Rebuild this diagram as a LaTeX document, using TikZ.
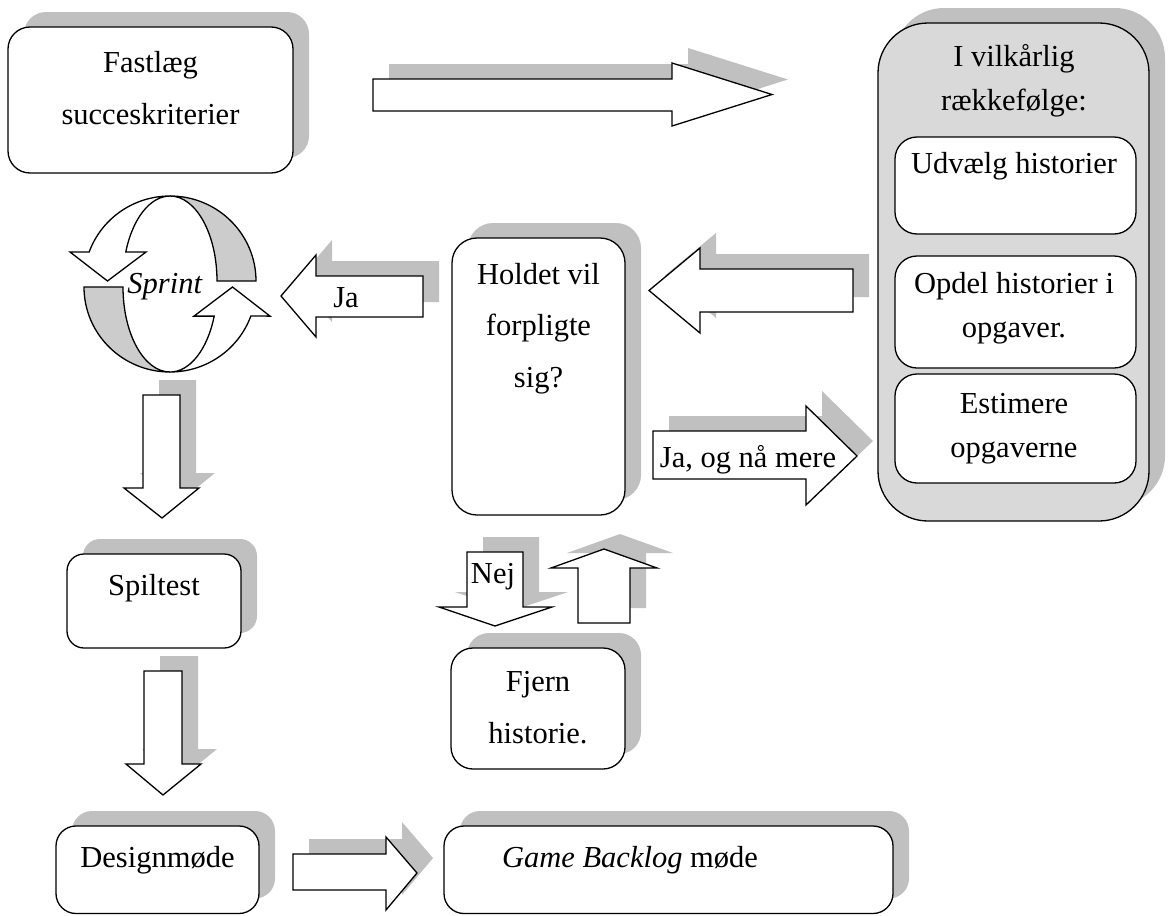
\documentclass[tikz,border=0pt]{standalone}
\usepackage{fontspec}
\setmainfont{Liberation Serif}
\usetikzlibrary{shadows}
\definecolor{shadowgray}{RGB}{192,192,192}
\definecolor{panelgray}{RGB}{217,217,217}
\definecolor{bandgray}{RGB}{204,204,204}
\begin{document}
\begin{tikzpicture}[x=1pt,y=-1pt,
  outline/.style={draw=black, line width=1.3pt},
  shade/.style={drop shadow={shadow xshift=16pt, shadow yshift=15pt, fill=shadowgray, opacity=1}},
  box/.style={outline, fill=white, shade, rounded corners=#1, inner sep=0pt},
  box/.default=22pt,
  subbox/.style={outline, fill=white, rounded corners=22pt, inner sep=0pt},
  blockarrow/.style={outline, fill=white, shade, line join=miter},
  band/.style={outline, fill=bandgray},
  txt/.style={font=\fontsize{30.5}{51.5}\selectfont, align=center, inner sep=0pt},
  paneltxt/.style={font=\fontsize{30.5}{44}\selectfont, align=center, inner sep=0pt},
]
\useasboundingbox (0,0) rectangle (1171,916);

% ---- boxes (text nodes are anchored at the baseline of their last line) ----
\node[box] (fast) at (150.5,100) [minimum width=285pt, minimum height=146pt] {};
\node[txt, anchor=base] (fast-t) at (150.5,124) {Fastlæg\\succeskriterier};

\node[outline, fill=panelgray, shade, rounded corners=50pt, inner sep=0pt,
      minimum width=271pt, minimum height=498pt] (panel) at (1013.5,272) {};
\node[paneltxt, anchor=base] (panel-t) at (1014,110) {I vilkårlig\\rækkefølge:};

\node[subbox, minimum width=241pt, minimum height=97pt] (pick) at (1015.5,185.5) {};
\node[paneltxt, anchor=base] (pick-t) at (1014,173) {Udvælg historier};
\node[subbox, minimum width=241pt, minimum height=112pt] (split) at (1015.5,312) {};
\node[paneltxt, anchor=base] (split-t) at (1014,337) {Opdel historier i\\opgaver.};
\node[subbox, minimum width=241pt, minimum height=109pt] (est) at (1015.5,428.5) {};
\node[paneltxt, anchor=base] (est-t) at (1014,457) {Estimere\\opgaverne};

\node[box=25pt, minimum width=173pt, minimum height=277pt] (commit) at (538.5,376.5) {};
\node[txt, anchor=base] (commit-t) at (538.5,387) {Holdet vil\\forpligte\\sig?};

\node[box, minimum width=174pt, minimum height=121pt] (remove) at (538,708.5) {};
\node[txt, anchor=base] (remove-t) at (538,743) {Fjern\\historie.};

\node[box=17pt, minimum width=174pt, minimum height=94pt] (test) at (154,601) {};
\node[txt, anchor=base] (test-t) at (154,595) {Spiltest};

\node[box=20pt, minimum width=203pt, minimum height=87.5pt] (design) at (157.5,869.75) {};
\node[txt, anchor=base] (design-t) at (157.5,867) {Designmøde};

\node[box=20pt, minimum width=449pt, minimum height=87.5pt] (backlog) at (668.5,869.75) {};
\node[txt, anchor=base] (backlog-t) at (630,867) {\textit{Game Backlog} møde};

% ---- block arrows ----
\draw[blockarrow] (373,79) -- (672,79) -- (672,63) -- (772,94.5) -- (672,126) -- (672,111) -- (373,111) -- cycle;
\draw[blockarrow] (423,276) -- (316,276) -- (316,255) -- (281,296) -- (316,337) -- (316,317) -- (423,317) -- cycle;
\node[txt, anchor=base] (yes-t) at (346,307) {Ja};
\draw[blockarrow] (853,269) -- (700,269) -- (700,248) -- (649,290.5) -- (700,333) -- (700,312) -- (853,312) -- cycle;
\draw[blockarrow] (653,431) -- (806,431) -- (806,406) -- (857,456) -- (806,505) -- (806,479) -- (653,479) -- cycle;
\node[txt, anchor=base] (more-t) at (748,467) {Ja, og nå mere};
\draw[blockarrow] (467,552) -- (467,607) -- (439,607) -- (495,626) -- (552,607) -- (523,607) -- (523,552) -- cycle;
\node[txt, anchor=base] (no-t) at (493,583) {Nej};
\draw[blockarrow] (578,623) -- (578,568) -- (551,568) -- (604,549) -- (657,568) -- (630,568) -- (630,623) -- cycle;
\draw[blockarrow] (143,395) -- (143,488) -- (124,488) -- (162,518) -- (199,488) -- (180,488) -- (180,395) -- cycle;
\draw[blockarrow] (144,671) -- (144,764) -- (126,764) -- (163,795) -- (201,764) -- (182,764) -- (182,671) -- cycle;
\draw[blockarrow] (293,854) -- (386,854) -- (386,837) -- (417,873) -- (386,910) -- (386,890) -- (293,890) -- cycle;

% ---- sprint cycle ----
\draw[band] (170,196) arc[start angle=270, end angle=360, x radius=86, y radius=85]
  -- (217,281) arc[start angle=0, end angle=-90, x radius=47, y radius=85] -- cycle;
\draw[outline, fill=white, line join=miter] (170,196) arc[start angle=270, end angle=200, x radius=86, y radius=85]
  -- (70,252) -- (107.5,281) -- (146,252) -- (125.8,252)
  arc[start angle=200, end angle=270, x radius=47, y radius=85] -- cycle;
\draw[band] (84,287) arc[start angle=180, end angle=90, x radius=86, y radius=85]
  arc[start angle=90, end angle=180, x radius=47, y radius=85] -- cycle;
\draw[outline, fill=white, line join=miter] (170,372) arc[start angle=90, end angle=20, x radius=86, y radius=85]
  -- (270,316.1) -- (232.5,287) -- (194,316.1) -- (214.2,316.1)
  arc[start angle=20, end angle=90, x radius=47, y radius=85] -- cycle;
\node[txt, anchor=base] (sprint-t) at (165,293) {\textit{Sprint}};
\end{tikzpicture}
\end{document}
